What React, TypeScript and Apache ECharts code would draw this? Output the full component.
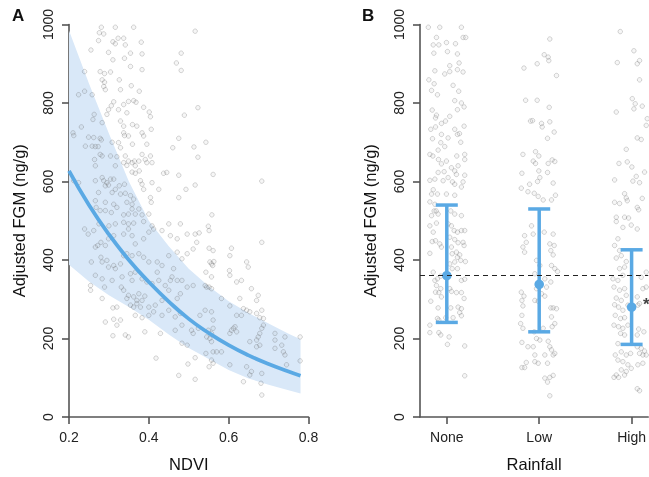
import React, { useEffect, useRef } from "react";
import * as echarts from "echarts";

const rainfallCats = ["None", "Low", "High"];
const curveX = [0.2, 0.25, 0.3, 0.35, 0.4, 0.45, 0.5, 0.55, 0.6, 0.65, 0.7, 0.75, 0.78];
const curveFit = [627, 540, 465, 400, 344, 294, 250, 214, 183, 157, 135, 116, 105];
const bandUpper = [985, 850, 722, 600, 500, 435, 378, 333, 295, 265, 238, 212, 198];
const bandLower = [388, 345, 310, 280, 248, 210, 176, 148, 120, 98, 82, 68, 60];

const pointsA: number[][] = [
  [0.281,993],[0.316,993],[0.362,993],[0.276,979],[0.287,976],[0.323,965],[0.337,965],[0.274,959],[0.310,956],[0.316,951],[0.341,948],[0.381,955],[0.255,935],[0.299,929],[0.354,927],[0.383,925],[0.339,914],[0.310,910],[0.481,927],[0.469,902],[0.481,883],[0.239,880],[0.278,880],[0.289,875],[0.304,879],[0.383,885],[0.354,893],[0.326,859],[0.283,859],[0.289,853],[0.287,842],[0.291,834],[0.329,834],[0.356,844],[0.376,830],[0.224,821],[0.239,830],[0.258,821],[0.312,803],[0.306,793],[0.337,796],[0.349,804],[0.362,806],[0.368,802],[0.387,789],[0.401,777],[0.299,783],[0.295,771],[0.324,783],[0.345,775],[0.404,765],[0.263,771],[0.260,758],[0.283,750],[0.329,754],[0.337,741],[0.359,745],[0.370,741],[0.406,733],[0.231,739],[0.210,724],[0.212,717],[0.249,713],[0.262,712],[0.278,710],[0.337,724],[0.339,717],[0.349,716],[0.383,724],[0.387,716],[0.475,710],[0.241,690],[0.258,690],[0.266,689],[0.273,689],[0.281,706],[0.308,700],[0.324,699],[0.329,686],[0.359,695],[0.395,695],[0.460,686],[0.278,669],[0.283,665],[0.304,665],[0.320,663],[0.341,665],[0.349,652],[0.358,648],[0.364,652],[0.375,652],[0.383,669],[0.391,656],[0.404,665],[0.264,656],[0.266,640],[0.316,640],[0.337,648],[0.345,641],[0.366,640],[0.376,627],[0.395,648],[0.408,648],[0.358,624],[0.366,621],[0.437,621],[0.445,623],[0.475,616],[0.212,602],[0.224,597],[0.266,602],[0.283,610],[0.287,602],[0.295,597],[0.304,606],[0.312,606],[0.291,589],[0.299,591],[0.316,580],[0.326,589],[0.339,593],[0.379,602],[0.383,593],[0.387,580],[0.408,597],[0.425,580],[0.493,580],[0.274,572],[0.308,572],[0.329,568],[0.341,570],[0.354,564],[0.362,555],[0.404,559],[0.475,559],[0.266,551],[0.291,547],[0.312,542],[0.345,547],[0.358,542],[0.320,534],[0.358,530],[0.375,530],[0.406,547],[0.268,534],[0.278,526],[0.291,526],[0.306,521],[0.337,515],[0.349,517],[0.366,517],[0.383,515],[0.400,517],[0.489,769],
  [0.516,983],[0.523,788],[0.543,700],[0.513,688],[0.523,662],[0.561,618],[0.516,591],[0.683,601],[0.558,515],
  [0.239,479],[0.248,466],[0.262,475],[0.275,492],[0.300,487],[0.316,492],[0.337,496],[0.349,492],[0.362,494],[0.387,498],[0.408,487],[0.450,492],[0.479,492],[0.272,437],[0.280,445],[0.266,433],[0.291,437],[0.299,454],[0.312,462],[0.337,466],[0.349,479],[0.358,462],[0.366,441],[0.387,454],[0.400,471],[0.412,479],[0.433,475],[0.454,462],[0.471,454],[0.496,466],[0.256,395],[0.280,407],[0.283,395],[0.295,399],[0.299,382],[0.312,386],[0.316,378],[0.329,390],[0.337,411],[0.345,416],[0.358,411],[0.375,416],[0.387,407],[0.400,395],[0.421,395],[0.433,386],[0.450,411],[0.462,378],[0.471,420],[0.483,403],[0.496,416],[0.266,361],[0.283,352],[0.308,348],[0.333,357],[0.354,365],[0.358,348],[0.366,369],[0.383,352],[0.395,344],[0.408,340],[0.421,369],[0.425,348],[0.441,335],[0.454,348],[0.458,357],[0.471,348],[0.483,348],[0.496,331],[0.254,335],[0.254,323],[0.289,331],[0.331,331],[0.337,323],[0.345,302],[0.349,310],[0.362,306],[0.370,297],[0.375,314],[0.383,297],[0.390,308],[0.354,285],[0.362,280],[0.370,289],[0.379,280],[0.400,280],[0.416,285],[0.433,297],[0.450,323],[0.471,302],[0.479,314],[0.366,259],[0.383,253],[0.400,259],[0.412,268],[0.433,259],[0.450,272],[0.466,255],[0.479,264],[0.283,302],[0.310,278],[0.320,280],[0.291,242],[0.312,249],[0.329,247],[0.320,234],[0.310,207],[0.341,209],[0.349,204],[0.390,217],[0.429,213],[0.466,221],[0.483,234],[0.483,188],[0.496,183],[0.418,150],[0.475,106],[0.498,135],
  [0.516,466],[0.526,469],[0.549,486],[0.551,475],[0.511,428],[0.520,445],[0.551,430],[0.561,424],[0.553,395],[0.557,390],[0.560,386],[0.563,396],[0.607,430],[0.603,411],[0.683,445],[0.645,395],[0.649,382],[0.602,373],[0.603,361],[0.543,369],[0.557,357],[0.620,344],[0.632,348],[0.657,327],[0.670,297],[0.674,310],[0.541,335],[0.545,331],[0.551,331],[0.557,327],[0.511,335],[0.582,302],[0.603,283],[0.628,302],[0.637,276],[0.645,272],[0.653,268],[0.670,264],[0.678,253],[0.687,251],[0.683,272],[0.541,272],[0.557,268],[0.561,247],[0.528,259],[0.620,259],[0.632,259],[0.687,234],[0.612,226],[0.616,230],[0.620,217],[0.603,213],[0.524,226],[0.549,221],[0.557,213],[0.511,213],[0.545,204],[0.553,200],[0.557,192],[0.561,226],[0.683,226],[0.678,213],[0.674,204],[0.670,196],[0.653,192],[0.678,183],[0.670,179],[0.716,213],[0.741,204],[0.779,204],[0.716,196],[0.733,183],[0.737,166],[0.741,158],[0.716,175],[0.779,143],[0.607,221],[0.582,166],[0.570,166],[0.561,166],[0.543,162],[0.516,151],[0.557,145],[0.561,137],[0.551,128],[0.603,133],[0.645,128],[0.657,116],[0.653,107],[0.683,111],[0.681,86],[0.637,90],[0.683,56],[0.745,133],[0.516,96],[0.507,221]
];

const pointsNone: number[][] = [
  [0.800,993],[0.924,993],[1.158,993],[0.888,967],[1.176,967],[1.205,967],[0.853,948],[0.914,948],[0.996,954],[1.094,951],[0.860,927],[1.007,931],[1.115,925],[1.133,902],[1.032,895],[0.871,882],[0.978,874],[1.032,880],[1.115,885],[1.176,879],[0.806,859],[0.863,849],[1.068,845],[0.835,832],[0.899,821],[1.129,830],[1.086,806],[1.158,800],[1.187,790],[1.115,783],[0.842,782],[0.888,769],[0.878,762],[0.986,754],[0.942,748],[1.032,766],[1.187,741],[0.827,733],[0.878,739],[1.086,733],[1.115,720],[1.137,722],[0.942,720],[0.845,709],[1.014,711],[1.151,700],[0.935,699],[0.978,689],[0.906,680],[0.817,669],[0.849,665],[0.910,656],[0.942,645],[0.996,652],[1.108,665],[1.194,669],[1.194,656],[1.050,635],[1.122,640],[0.906,623],[0.971,625],[1.086,627],[1.104,618],[1.194,616],[0.817,603],[0.871,606],[0.960,602],[1.014,610],[1.061,599],[1.086,593],[1.176,599],[1.158,586],[0.853,579],[0.835,568],[0.899,568],[0.996,568],[1.086,565],[0.817,548],[0.871,542],[0.863,525],[0.906,517],[0.885,525],[1.043,525],[1.086,517],[1.158,513],[0.835,513],
  [0.817,487],[0.888,494],[0.853,471],[0.878,449],[0.842,447],[0.924,441],[0.942,433],[0.817,417],[1.014,492],[1.050,487],[1.079,475],[1.115,471],[1.158,475],[1.194,475],[1.032,458],[1.086,452],[1.122,444],[1.176,445],[1.187,437],[1.050,433],[1.104,420],[1.058,416],[1.140,413],[1.115,407],[1.201,396],[1.151,399],[1.086,395],[1.032,390],[1.058,378],[1.115,378],[0.853,369],[0.871,348],[0.899,352],[0.935,359],[1.158,348],[1.194,351],[0.888,335],[0.935,327],[0.878,318],[0.914,317],[0.942,306],[0.827,295],[1.032,327],[1.050,320],[1.104,317],[1.158,317],[1.187,302],[0.906,278],[1.043,278],[1.122,280],[1.158,276],[1.140,266],[1.158,258],[0.899,251],[0.914,247],[0.989,253],[1.068,253],[0.817,234],[0.817,215],[0.914,215],[0.935,209],[1.025,204],[1.007,185],[1.194,181],[1.194,105]
];

const pointsLow: number[][] = [
  [1.835,889],[1.853,807],[1.906,754],[1.824,669],[1.813,621],[1.806,583],[1.896,593],[1.878,574],
  [2.115,963],[1.978,900],[2.054,923],[2.097,917],[2.104,908],[2.187,870],[1.978,807],[2.108,789],[1.928,755],[2.025,748],[2.032,739],[2.115,752],[2.162,726],[2.090,710],[1.960,676],[1.996,665],[1.935,652],[1.960,646],[2.140,655],[2.169,651],[2.097,646],[1.996,627],[2.090,623],[2.007,610],[1.982,600],[2.151,596],[1.946,570],[1.989,562],[2.043,553],[2.133,553],[2.176,565],
  [1.842,462],[1.860,445],[1.824,433],[1.842,420],[1.806,318],[1.835,308],[1.813,297],[1.824,283],[1.813,259],[1.799,238],[1.824,226],[1.813,190],[1.878,179],[1.860,139],[1.813,126],[1.842,126],
  [1.917,487],[1.935,466],[2.054,471],[2.151,466],[2.115,441],[2.162,437],[2.126,424],[2.151,413],[1.971,399],[2.007,386],[2.133,386],[2.169,378],[2.198,371],[1.953,365],[2.061,352],[2.126,344],[2.079,331],[1.971,327],[2.025,314],[2.061,308],[1.953,297],[1.989,295],[2.126,278],[2.151,278],[2.187,276],[2.133,255],[2.169,238],[2.140,230],[1.946,217],[2.043,226],[1.971,200],[2.007,196],[2.097,193],[1.935,179],[2.115,179],[2.133,171],[1.953,158],[2.061,158],[2.151,158],[2.169,162],[2.090,137],[1.989,137],[1.953,141],[2.151,106],[2.115,101],[2.061,99],[2.090,89],[2.115,54]
];

const pointsHigh: number[][] = [
  [2.877,982],[3.025,933],[2.845,903],[3.061,900],[3.086,908],[3.086,859],[3.007,811],[3.039,798],[3.025,785],[3.115,792],[2.834,777],[3.169,760],[3.158,743],[3.061,711],[3.104,707],[2.942,682],[2.863,646],[2.953,650],[3.003,637],[3.140,624],[2.816,604],[3.014,601],[3.050,613],[3.086,597],[2.924,569],[2.942,558],[2.953,551],[3.115,557],[2.816,547],[2.870,544],[3.061,534],[3.076,528],[2.834,509],[2.924,509],[2.967,507],
  [2.834,498],[2.906,483],[2.996,489],[3.061,479],[2.852,454],[2.816,437],[2.870,424],[2.834,405],[2.888,411],[2.942,396],[2.870,378],[2.924,382],[2.798,352],[2.852,348],[2.906,361],[2.809,331],[2.870,323],[2.924,327],[2.834,303],[2.888,297],[2.942,310],[2.816,286],[2.859,280],[2.906,272],[2.960,285],[3.061,306],[3.086,289],[3.068,285],[3.122,327],[3.158,331],[3.104,356],[3.158,369],[2.823,259],[2.881,251],[2.924,253],[2.809,234],[2.859,230],[2.906,226],[2.960,234],[2.881,213],[2.924,209],[3.076,224],[3.133,217],[3.061,209],[2.852,187],[2.823,158],[2.888,166],[2.942,158],[2.989,162],[3.061,179],[3.104,175],[3.140,168],[3.086,162],[3.122,158],[3.158,158],[2.852,145],[2.906,141],[2.960,133],[2.888,120],[2.942,116],[2.996,124],[3.068,133],[3.122,137],[2.834,107],[2.809,101],[2.859,101],[2.924,107],[3.061,72],[3.086,67]
];

const groupMean = [360, 338, 280];
const groupLow = [241, 217, 185];
const groupHigh = [540, 530, 426];
const referenceLine = 360;
const starPoint = [3.16, 286];

const BLUE = "#5aa9e4";
const BAND = "#d9e8f8";
const AXIS = "#555555";
const FONT = "'Liberation Sans', Arial, Helvetica, sans-serif";

export default function App() {
  const ref = useRef<HTMLDivElement>(null);
  useEffect(() => {
    if (!ref.current) return;
    const chart = echarts.init(ref.current, null, { renderer: "svg" });
    const axisLine = { show: true, lineStyle: { color: AXIS, width: 1.6 } };
    const axisTick = { show: true, length: 7, lineStyle: { color: AXIS, width: 1.6 } };
    const yAxisCommon = (gridIndex: number) => ({
      type: "value",
      gridIndex,
      min: 0,
      max: 1000,
      interval: 200,
      axisLine,
      axisTick,
      splitLine: { show: false },
      axisLabel: {
        rotate: 90,
        fontSize: 14,
        color: "#222",
        margin: 14,
        fontFamily: FONT,
        formatter: (v: number) => String(v),
      },
      name: "Adjusted FGM (ng/g)",
      nameLocation: "middle",
      nameGap: 42,
      nameTextStyle: { fontSize: 16.5, color: "#111", fontFamily: FONT },
    });
    const scatterStyle = {
      color: "rgba(160,160,160,0.12)",
      borderColor: "rgba(85,85,85,0.38)",
      borderWidth: 0.8,
    };
    const option: any = {
      animation: false,
      textStyle: { fontFamily: FONT },
      grid: [
        { left: 69, top: 24.5, width: 239.5, height: 394.5 },
        { left: 420, top: 24.5, width: 229, height: 394.5 },
      ],
      xAxis: [
        {
          type: "value",
          gridIndex: 0,
          min: 0.2,
          max: 0.8,
          interval: 0.2,
          axisLine,
          axisTick,
          splitLine: { show: false },
          axisLabel: { fontSize: 14, color: "#222", margin: 13, fontFamily: FONT, formatter: (v: number) => v.toFixed(1) },
          name: "NDVI",
          nameLocation: "middle",
          nameGap: 38,
          nameTextStyle: { fontSize: 16.5, color: "#111", fontFamily: FONT },
        },
        {
          type: "value",
          gridIndex: 1,
          min: 0.71,
          max: 3.18,
          axisLine,
          axisTick: { ...axisTick, customValues: [1, 2, 3] },
          splitLine: { show: false },
          axisLabel: {
            fontSize: 14,
            color: "#222",
            margin: 13,
            fontFamily: FONT,
            customValues: [1, 2, 3],
            formatter: (v: number) => rainfallCats[Math.round(v) - 1] ?? "",
          },
          name: "Rainfall",
          nameLocation: "middle",
          nameGap: 38,
          nameTextStyle: { fontSize: 16.5, color: "#111", fontFamily: FONT },
        },
      ],
      yAxis: [yAxisCommon(0), yAxisCommon(1)],
      graphic: [
        { type: "text", left: 12, top: 7, style: { text: "A", font: `bold 17px ${FONT}`, fill: "#111" } },
        { type: "text", left: 362, top: 7, style: { text: "B", font: `bold 17px ${FONT}`, fill: "#111" } },
      ],
      series: [
        {
          type: "custom",
          xAxisIndex: 0,
          yAxisIndex: 0,
          data: curveX.map((x, i) => [x, bandLower[i], bandUpper[i]]),
          encode: { x: 0, y: [1, 2] },
          z: 1,
          renderItem: (params: any, api: any) => {
            if (params.dataIndex !== 0) return { type: "group", children: [] };
            const pts: number[][] = [];
            curveX.forEach((x, i) => pts.push(api.coord([x, bandUpper[i]])));
            for (let i = curveX.length - 1; i >= 0; i--) pts.push(api.coord([curveX[i], bandLower[i]]));
            return { type: "polygon", shape: { points: pts }, style: { fill: BAND } };
          },
        },
        {
          type: "scatter",
          xAxisIndex: 0,
          yAxisIndex: 0,
          data: pointsA,
          symbolSize: 4.5,
          itemStyle: scatterStyle,
          z: 2,
        },
        {
          type: "line",
          xAxisIndex: 0,
          yAxisIndex: 0,
          data: curveX.map((x, i) => [x, curveFit[i]]),
          smooth: true,
          showSymbol: false,
          lineStyle: { color: BLUE, width: 3.8 },
          z: 3,
        },
        {
          type: "scatter",
          xAxisIndex: 1,
          yAxisIndex: 1,
          data: [...pointsNone, ...pointsLow, ...pointsHigh],
          symbolSize: 4.5,
          itemStyle: scatterStyle,
          z: 2,
          markLine: {
            silent: true,
            symbol: ["none", "none"],
            label: { show: false },
            lineStyle: { type: [5, 4], color: "#222", width: 1.2 },
            data: [{ yAxis: referenceLine }],
          },
        },
        {
          type: "custom",
          xAxisIndex: 1,
          yAxisIndex: 1,
          data: rainfallCats.map((c, i) => [i + 1, groupMean[i], groupLow[i], groupHigh[i]]),
          encode: { x: 0, y: [1, 2, 3] },
          z: 4,
          renderItem: (params: any, api: any) => {
            const x = api.value(0);
            const m = api.coord([x, api.value(1)]);
            const lo = api.coord([x, api.value(2)]);
            const hi = api.coord([x, api.value(3)]);
            const style = { stroke: BLUE, lineWidth: 3.5 };
            return {
              type: "group",
              children: [
                { type: "line", shape: { x1: m[0], y1: hi[1], x2: m[0], y2: lo[1] }, style },
                { type: "line", shape: { x1: m[0] - 11, y1: hi[1], x2: m[0] + 11, y2: hi[1] }, style },
                { type: "line", shape: { x1: m[0] - 11, y1: lo[1], x2: m[0] + 11, y2: lo[1] }, style },
                { type: "circle", shape: { cx: m[0], cy: m[1], r: 4.8 }, style: { fill: BLUE } },
              ],
            };
          },
        },
        {
          type: "scatter",
          xAxisIndex: 1,
          yAxisIndex: 1,
          data: [starPoint],
          symbolSize: 0,
          z: 5,
          label: { show: true, position: "inside", formatter: "*", fontSize: 17, fontWeight: "bold", color: "#111" },
        },
      ],
    };
    chart.setOption(option);
    return () => chart.dispose();
  }, []);
  return <div ref={ref} style={{ position: "fixed", left: 0, top: 0, width: 649, height: 477 }} />;
}
